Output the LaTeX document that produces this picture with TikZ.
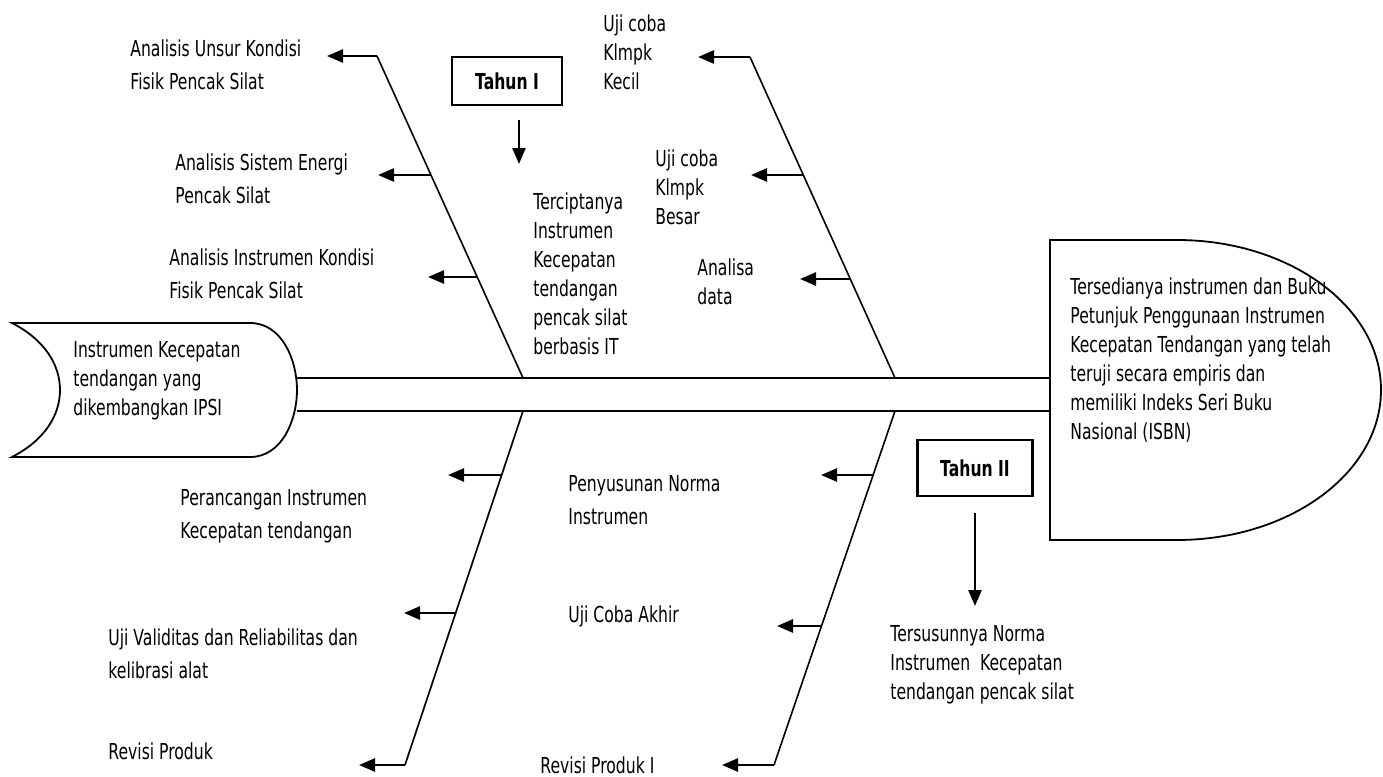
\documentclass[tikz,border=0pt]{standalone}
\usepackage{fontspec}
\setmainfont{DejaVu Sans}[FakeStretch=0.71]
\usetikzlibrary{arrows.meta}

\begin{document}
\begin{tikzpicture}[x=0.5pt,y=-0.5pt,
  bone/.style={line width=0.8pt},
  arr/.style={line width=1.3pt,-{Triangle[length=8pt,width=6.5pt]}},
  lbl/.style={inner sep=0pt,anchor=north west,align=left,font=\fontsize{11}{16.5}\selectfont},
  lbltight/.style={lbl,font=\fontsize{11}{14.5}\selectfont},
  yearbox/.style={draw,line width=1.1pt,inner sep=0pt,font=\bfseries\fontsize{11}{13}\selectfont},
  head/.style={line width=0.9pt}]

\useasboundingbox (0,0) rectangle (1383,777);

% ---- fish head (left) and tail (right) ----
\draw[head] (12,323) -- (250,323)
  .. controls (282,323) and (297,360) .. (297,390)
  .. controls (297,420) and (282,457) .. (250,457) -- (12,457)
  .. controls (45,440) and (60,415) .. (60,390)
  .. controls (60,365) and (45,340) .. (12,323) -- cycle;
\node[lbltight] (srcL) at (73,341) {Instrumen Kecepatan\\tendangan yang\\dikembangkan IPSI};

\draw[head] (1050,540) -- (1050,240) -- (1177,240)
  arc[start angle=90,end angle=-90,x radius=102pt,y radius=75pt] -- cycle;
\node[lbltight] (goal) at (1070,277) {Tersedianya instrumen dan Buku\\Petunjuk Penggunaan Instrumen\\Kecepatan Tendangan yang telah\\teruji secara empiris dan\\memiliki Indeks Seri Buku\\Nasional (ISBN)};

% ---- spine ----
\coordinate (spTL) at (297,378);
\coordinate (spTR) at (1050,378);
\coordinate (spBL) at (297,411);
\coordinate (spBR) at (1050,411);
\draw[bone] (spTL) -- (spTR);
\draw[bone] (spBL) -- (spBR);

% ---- upper bones ----
\coordinate (u1top) at (377,56);
\coordinate (u1bot) at (523,378);
\draw[bone] (u1top) -- (u1bot);
\coordinate (u2top) at (750,57);
\coordinate (u2bot) at (895,378);
\draw[bone] (u2top) -- (u2bot);

% ---- lower bones ----
\coordinate (l1top) at (523,411);
\coordinate (l1bot) at (405,765);
\draw[bone] (l1top) -- (l1bot);
\coordinate (l2top) at (895,411);
\coordinate (l2bot) at (774,765);
\draw[bone] (l2top) -- (l2bot);

% ---- causes, upper left bone ----
\node[lbl] (a1) at (130,39) {Analisis Unsur Kondisi\\Fisik Pencak Silat};
\node[lbl] (a2) at (175,153) {Analisis Sistem Energi\\Pencak Silat};
\node[lbl] (a3) at (169,248) {Analisis Instrumen Kondisi\\Fisik Pencak Silat};
\coordinate (a1t) at (327,56);
\coordinate (a2s) at (431,175);
\coordinate (a2t) at (378,175);
\coordinate (a3s) at (477,277);
\coordinate (a3t) at (428,277);
\draw[arr] (u1top) -- (a1t);
\draw[arr] (a2s) -- (a2t);
\draw[arr] (a3s) -- (a3t);

% ---- causes, upper right bone ----
\node[lbltight] (b1) at (603,14) {Uji coba\\Klmpk\\Kecil};
\node[lbltight] (b2) at (655,149) {Uji coba\\Klmpk\\Besar};
\node[lbltight] (b3) at (697,258) {Analisa\\data};
\coordinate (b1t) at (698,57);
\coordinate (b2s) at (803,175);
\coordinate (b2t) at (751,175);
\coordinate (b3s) at (850,279);
\coordinate (b3t) at (800,279);
\draw[arr] (u2top) -- (b1t);
\draw[arr] (b2s) -- (b2t);
\draw[arr] (b3s) -- (b3t);

% ---- year one ----
\node[yearbox,minimum width=55pt,minimum height=24pt] (y1) at (507,81) {Tahun I};
\coordinate (y1s) at (519,120);
\coordinate (y1t) at (519,164);
\draw[arr] (y1s) -- (y1t);
\node[lbltight] (r1) at (533,192) {Terciptanya\\Instrumen\\Kecepatan\\tendangan\\pencak silat\\berbasis IT};

% ---- causes, lower left bone ----
\node[lbl] (c1) at (180,489) {Perancangan Instrumen\\Kecepatan tendangan};
\node[lbl] (c2) at (108,628) {Uji Validitas dan Reliabilitas dan\\kelibrasi alat};
\node[lbl] (c3) at (108,742) {Revisi Produk};
\coordinate (c1s) at (502,475);
\coordinate (c1t) at (448,475);
\coordinate (c2s) at (456,613);
\coordinate (c2t) at (404,613);
\coordinate (c3t) at (359,765);
\draw[arr] (c1s) -- (c1t);
\draw[arr] (c2s) -- (c2t);
\draw[arr] (l1bot) -- (c3t);

% ---- causes, lower right bone ----
\node[lbl] (d1) at (568,475) {Penyusunan Norma\\Instrumen};
\node[lbl] (d2) at (568,605) {Uji Coba Akhir};
\node[lbl] (d3) at (540,756) {Revisi Produk I};
\coordinate (d1s) at (873,475);
\coordinate (d1t) at (821,475);
\coordinate (d2s) at (822,626);
\coordinate (d2t) at (777,626);
\coordinate (d3t) at (722,765);
\draw[arr] (d1s) -- (d1t);
\draw[arr] (d2s) -- (d2t);
\draw[arr] (l2bot) -- (d3t);

% ---- year two ----
\node[yearbox,minimum width=57.5pt,minimum height=28pt] (y2) at (975,468) {Tahun II};
\coordinate (y2s) at (975,513);
\coordinate (y2t) at (975,606);
\draw[arr] (y2s) -- (y2t);
\node[lbltight] (r2) at (890,625) {Tersusunnya Norma\\Instrumen\ \ Kecepatan\\tendangan pencak silat};

\end{tikzpicture}
\end{document}
